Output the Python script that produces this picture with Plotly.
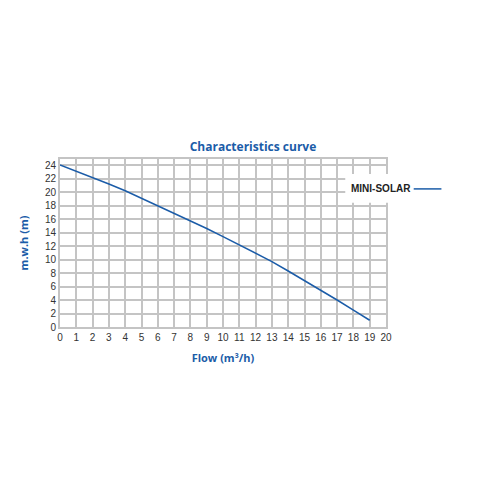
import plotly.graph_objects as go

# Flow (m3/h) vs head (m)
flow = [0, 1, 2, 3, 4, 5, 6, 7, 8, 9, 10, 11, 12, 13, 14, 15, 16, 17, 18, 19]
head = [24, 23.1, 22.2, 21.2, 20.2, 19.1, 18, 16.9, 15.8, 14.6, 13.4, 12.2, 11, 9.7, 8.3, 6.9, 5.5, 4, 2.5, 1]
x_ticks = list(range(0, 21))
y_ticks = list(range(0, 25, 2))
series_name = "MINI-SOLAR"

blue = "#1b5ca8"

fig = go.Figure()
fig.add_trace(go.Scatter(x=flow, y=head, mode="lines", name=series_name,
                         line=dict(color=blue, width=1.5), showlegend=False))

# legend box drawn by hand: white box, bold name, line sample after text
fig.add_shape(type="rect", xref="paper", yref="paper", x0=0.875, x1=1.19 - 0.075 * 0 - 0.0, y0=0.74, y1=0.91,
              fillcolor="white", line=dict(width=0), layer="above")
fig.add_annotation(text="<b>" + series_name + "</b>", xref="paper", yref="paper",
                   x=0.885, y=0.825, xanchor="left", yanchor="middle", showarrow=False,
                   font=dict(family="Liberation Sans", size=10, color="#222"))
fig.add_shape(type="line", xref="paper", yref="paper", x0=1.085, x1=1.17, y0=0.822, y1=0.822,
              line=dict(color=blue, width=1.5), layer="above")

fig.update_layout(
    width=500, height=500,
    paper_bgcolor="white", plot_bgcolor="white",
    margin=dict(l=52, r=122, t=151, b=181),
    font=dict(family="Liberation Sans, Arial", size=10, color="#333"),
    title=dict(text="<b>Characteristics curve</b>", x=0.49, xanchor="center",
               y=0.722, yanchor="middle", font=dict(family="Open Sans", size=12, color=blue)),
)
fig.update_xaxes(range=[0, 20], tickvals=x_ticks, showgrid=True, gridcolor="#c4c4c4",
                 gridwidth=2, zeroline=False, showline=True, linecolor="#c4c4c4", linewidth=2,
                 mirror=True, ticks="", fixedrange=True,
                 title=dict(text="<b>Flow (m³/h)</b>", standoff=12,
                            font=dict(family="Open Sans", size=11, color=blue)))
fig.update_yaxes(range=[0, 24.9], tickvals=y_ticks, showgrid=True, gridcolor="#c4c4c4",
                 gridwidth=2, zeroline=False, showline=True, linecolor="#c4c4c4", linewidth=2,
                 mirror=True, ticks="", fixedrange=True,
                 title=dict(text="<b>m.w.h (m)</b>", standoff=14,
                            font=dict(family="Open Sans", size=11, color=blue)))

fig.write_html("out.html")
